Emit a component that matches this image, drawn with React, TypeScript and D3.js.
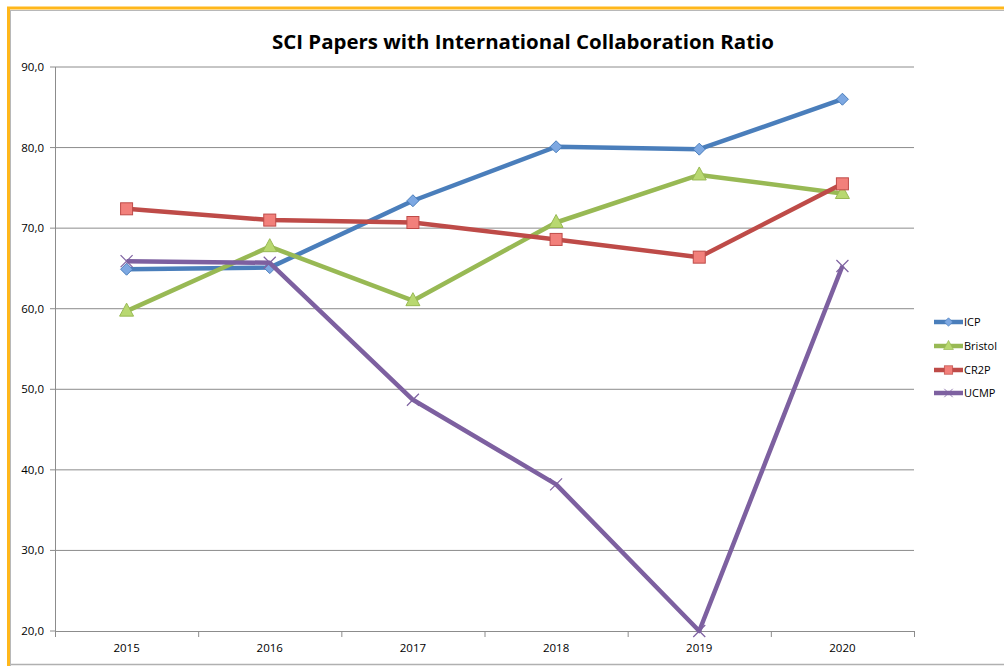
import React from "react";
import * as d3 from "d3";

const years = ["2015", "2016", "2017", "2018", "2019", "2020"];
const icp = [64.9, 65.1, 73.4, 80.1, 79.8, 86.0];
const bristol = [59.7, 67.7, 61.0, 70.7, 76.6, 74.3];
const cr2p = [72.4, 71.0, 70.7, 68.6, 66.4, 75.5];
const ucmp = [65.9, 65.7, 48.7, 38.2, 20.0, 65.3];
const yTicks = [20, 30, 40, 50, 60, 70, 80, 90];

const series = [
  { name: "ICP", values: icp, color: "#4A7EBB", fill: "#7DA8E2", marker: "diamond" },
  { name: "Bristol", values: bristol, color: "#98B954", fill: "#B8D870", marker: "triangle" },
  { name: "CR2P", values: cr2p, color: "#BE4B48", fill: "#F2807B", marker: "square" },
  { name: "UCMP", values: ucmp, color: "#7D60A0", fill: "#7D60A0", marker: "x" },
];

const M = { left: 55, right: 914, top: 67, bottom: 631 };

function Marker({ type, x, y, color, fill }: any) {
  if (type === "diamond") {
    const s = 6;
    return <path d={`M${x},${y - s}L${x + s},${y}L${x},${y + s}L${x - s},${y}Z`} fill={fill} stroke={color} strokeWidth={1} />;
  }
  if (type === "triangle") {
    return <path d={`M${x},${y - 8}L${x + 7},${y + 5}L${x - 7},${y + 5}Z`} fill={fill} stroke={color} strokeWidth={1} />;
  }
  if (type === "square") {
    return <rect x={x - 6} y={y - 6} width={12} height={12} fill={fill} stroke={color} strokeWidth={1} />;
  }
  const s = 6;
  return (
    <g stroke={color} strokeWidth={1.2}>
      <line x1={x - s} y1={y - s} x2={x + s} y2={y + s} />
      <line x1={x - s} y1={y + s} x2={x + s} y2={y - s} />
    </g>
  );
}

export default function App() {
  const x = d3.scaleBand<string>().domain(years).range([M.left, M.right]);
  const y = d3.scaleLinear().domain([20, 90]).range([M.bottom, M.top]);
  const line = d3
    .line<number>()
    .x((_, i) => (x(years[i]) as number) + x.bandwidth() / 2)
    .y((d) => y(d));
  const font = "'Open Sans', 'Liberation Sans', sans-serif";
  const boundaries = years.map((yr) => x(yr) as number).concat([M.right]);
  const legendY = [322, 346, 370, 393];

  return (
    <div style={{ position: "absolute", left: 0, top: 0 }}>
      <svg width={1004} height={666} style={{ display: "block", fontFamily: font }}>
        <rect x={0} y={0} width={1004} height={666} fill="#fff" />
        {/* frame */}
        <line x1={8} y1={664.5} x2={1004} y2={664.5} stroke="#b0b0b0" strokeWidth={1.5} />
        <line x1={10} y1={10.5} x2={1004} y2={10.5} stroke="#b8b8b8" strokeWidth={1} />
        <line x1={10.5} y1={10} x2={10.5} y2={666} stroke="#b8b8b8" strokeWidth={1} />
        <line x1={7} y1={8} x2={1004} y2={8} stroke="#FFB71B" strokeWidth={3} />
        <line x1={8.5} y1={7} x2={8.5} y2={666} stroke="#FFB71B" strokeWidth={3} />

        <text x={523} y={49} textAnchor="middle" fontSize={20} fontWeight="bold" fill="#000" textLength={502} lengthAdjust="spacingAndGlyphs">
          SCI Papers with International Collaboration Ratio
        </text>

        {/* gridlines */}
        {yTicks.map((t) => (
          <g key={t}>
            {t > 20 && <line x1={M.left} x2={M.right} y1={y(t)} y2={y(t)} stroke="#8c8c8c" strokeWidth={1} />}
            <line x1={M.left - 5} x2={M.left} y1={y(t)} y2={y(t)} stroke="#8c8c8c" strokeWidth={1} />
            <text x={44} y={y(t) + 4} textAnchor="end" fontSize={11.5} fill="#000">
              {d3.format(".1f")(t).replace(".", ",")}
            </text>
          </g>
        ))}
        <line x1={M.left + 0.5} x2={M.left + 0.5} y1={M.top} y2={M.bottom} stroke="#8c8c8c" strokeWidth={1} />
        <line x1={M.left} x2={M.right} y1={M.bottom + 0.5} y2={M.bottom + 0.5} stroke="#8c8c8c" strokeWidth={1} />
        {boundaries.map((b, i) => (
          <line key={i} x1={b + 0.5} x2={b + 0.5} y1={M.bottom} y2={M.bottom + 6} stroke="#8c8c8c" strokeWidth={1} />
        ))}
        {years.map((yr) => (
          <text key={yr} x={(x(yr) as number) + x.bandwidth() / 2} y={652} textAnchor="middle" fontSize={11.5} fill="#000">
            {yr}
          </text>
        ))}

        {/* series */}
        {series.map((s) => (
          <g key={s.name}>
            <path d={line(s.values) as string} fill="none" stroke={s.color} strokeWidth={4.5} strokeLinejoin="round" />
            {s.values.map((v, i) => (
              <Marker key={i} type={s.marker} x={(x(years[i]) as number) + x.bandwidth() / 2} y={y(v)} color={s.color} fill={s.fill} />
            ))}
          </g>
        ))}

        {/* legend */}
        {series.map((s, i) => (
          <g key={s.name}>
            <line x1={934} x2={963} y1={legendY[i]} y2={legendY[i]} stroke={s.color} strokeWidth={4.5} />
            <g transform={`translate(948.5,${legendY[i]}) scale(0.7) translate(-948.5,${-legendY[i]})`}>
              <Marker type={s.marker} x={948.5} y={legendY[i]} color={s.color} fill={s.fill} />
            </g>
            <text x={964} y={legendY[i] + 4} fontSize={11} fill="#000">
              {s.name}
            </text>
          </g>
        ))}
      </svg>
    </div>
  );
}
